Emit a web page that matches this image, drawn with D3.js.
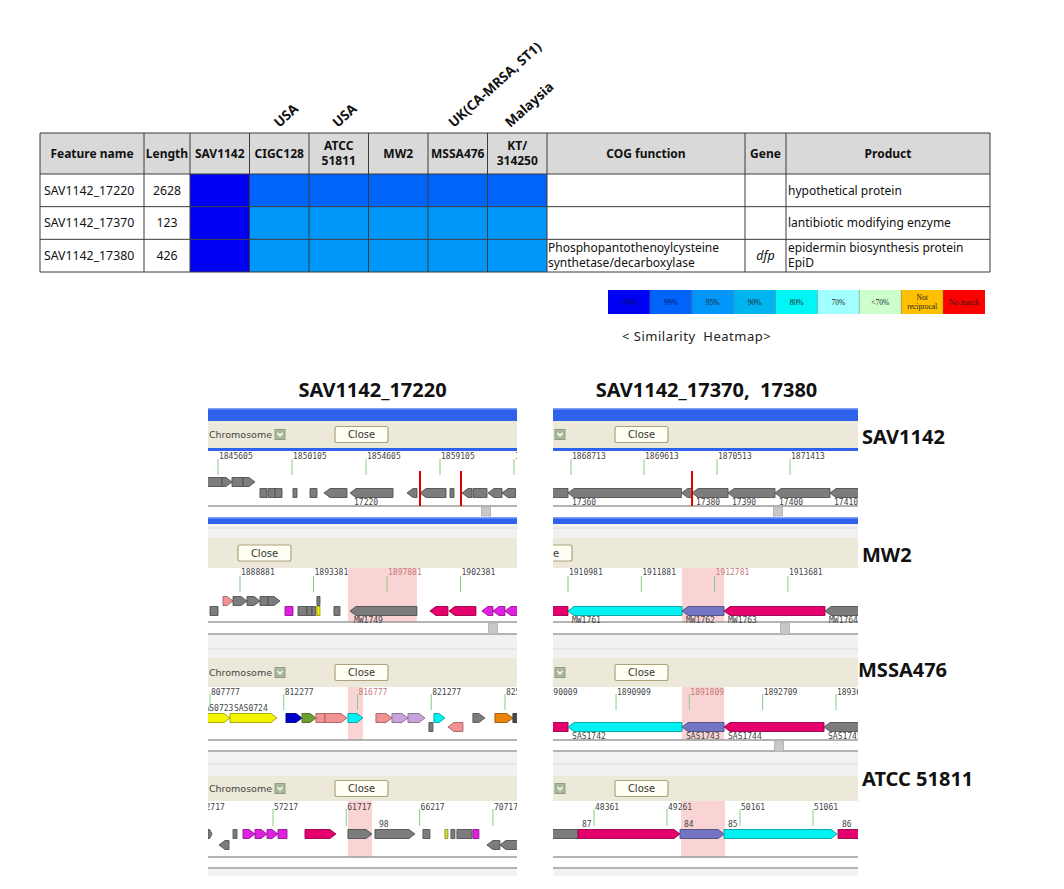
<!DOCTYPE html>
<html><head><meta charset="utf-8">
<script src="https://cdn.jsdelivr.net/npm/d3@7"></script>
<style>body{margin:0;background:#fff;} svg{display:block;} text{white-space:pre;}</style>
</head><body><svg id="c" width="1064" height="889"></svg>
<script>
// ================= DATA =================
const strains = ["SAV1142", "CIGC128", "ATCC\n51811", "MW2", "MSSA476", "KT/\n314250"];
const strainOrigins = ["", "USA", "USA", "", "UK(CA-MRSA, ST1)", "Malaysia"];
const features = ["SAV1142_17220", "SAV1142_17370", "SAV1142_17380"];
const lengths = [2628, 123, 426];
const similarity = [
  [100, 99, 99, 99, 99, 99],
  [100, 95, 95, 95, 95, 95],
  [100, 95, 95, 95, 95, 95]
];
const cogFunction = ["", "", "Phosphopantothenoylcysteine\nsynthetase/decarboxylase"];
const geneSymbols = ["", "", "dfp"];
const products = ["hypothetical protein", "lantibiotic modifying enzyme", "epidermin biosynthesis protein\nEpiD"];
const legendLevels = [100, 99, 95, 90, 80, 70, "<70", "nr", "nm"];
const legendLabels = ["100%", "99%", "95%", "90%", "80%", "70%", "<70%", "Not\nreciprocal", "No match"];
const legendColors = ["#0000F2", "#0064FA", "#0096FA", "#00B4F0", "#00F5F5", "#A0FFFF", "#CCFFCC", "#FFC000", "#FF0000"];

const panelTitles = ["SAV1142_17220", "SAV1142_17370,  17380"];
const genomeNames = ["SAV1142", "MW2", "MSSA476", "ATCC 51811"];

// visible genome window of each browser view [left column, right column] per genome
const viewLeft = [[1844997, 1863787], [1886922, 1905839], [807655, 826510], [53227, 72196]];
const viewRight = [[1868491, 1872251], [1910797, 1914542], [1890135, 1893880], [47855, 51616]];
const ticksLeft = [
  [1845605, 1850105, 1854605, 1859105, 1863605],
  [1888881, 1893381, 1897881, 1902381],
  [807777, 812277, 816777, 821277, 825777],
  [52717, 57217, 61717, 66217, 70717]
];
const ticksRight = [
  [1868713, 1869613, 1870513, 1871413],
  [1910981, 1911881, 1912781, 1913681],
  [1890009, 1890909, 1891809, 1892709, 1893609],
  [48361, 49261, 50161, 51061]
];
const highlightLeft = [null, [1895491, 1899713], [816195, 817110], [61819, 63292]];
const highlightRight = [null, [1912381, 1912897], [1891719, 1892235], [49434, 49976]];
const markersLeft = [[1857889, 1860382], [], [], []];
const markersRight = [[1870205], [], [], []];

// genes: [start, end, strand (1 fwd, -1 rev, 0 box), lane (0 upper, 1 lower), colour, label]
const genesLeft = [
  [
    [1844700, 1845848, 0, 0, "gray"], [1845848, 1846456, 1, 0, "gray"], [1846456, 1847125, 0, 0, "gray"],
    [1847125, 1847855, 1, 0, "gray"],
    [1848159, 1848585, 0, 1, "gray"], [1848646, 1849071, 0, 1, "gray"], [1849071, 1849497, 0, 1, "gray"],
    [1850166, 1850409, 0, 1, "gray"], [1851200, 1851625, 0, 1, "gray"], [1852051, 1853449, -1, 1, "gray"],
    [1853632, 1856247, -1, 1, "gray", "17220"], [1857098, 1857706, -1, 1, "gray"],
    [1857889, 1859470, -1, 1, "gray"], [1859713, 1859956, 0, 1, "gray"], [1860443, 1861051, -1, 1, "gray"],
    [1861112, 1861963, 0, 1, "gray"], [1862024, 1862875, -1, 1, "gray"], [1862875, 1863700, -1, 1, "gray"]
  ],
  [
    [1887841, 1888453, 1, 0, "salmon"], [1888453, 1889309, 1, 0, "gray"], [1889309, 1890105, 1, 0, "gray"],
    [1890105, 1890595, 0, 0, "gray"], [1890595, 1891329, 1, 0, "gray"], [1893593, 1893777, 0, 0, "gray"],
    [1887045, 1887535, 0, 1, "gray"], [1891635, 1892125, 0, 1, "magenta"], [1892431, 1892981, 0, 1, "gray"],
    [1892981, 1893287, 0, 1, "gray"], [1893287, 1893532, 0, 1, "gray"], [1893593, 1893777, 0, 1, "yellow"],
    [1894634, 1895001, 0, 1, "gray"], [1895613, 1899713, -1, 1, "gray", "MW1749"],
    [1900509, 1901611, -1, 1, "crimson"], [1901672, 1903325, -1, 1, "crimson"],
    [1903691, 1904365, -1, 1, "magenta"], [1904365, 1905099, -1, 1, "magenta"], [1905099, 1905900, -1, 1, "magenta"]
  ],
  [
    [806900, 808997, 1, 0, "yellow", "SAS0723"], [808997, 811864, 1, 0, "yellow", "SAS0724"],
    [812413, 813389, 1, 0, "blue"], [813389, 814243, 1, 0, "green"], [814243, 814792, 0, 0, "salmon"],
    [814792, 816134, 1, 0, "salmon"], [816195, 817110, 1, 0, "cyan"], [817903, 818879, 1, 0, "salmon"],
    [818879, 819855, 1, 0, "lilac"], [819855, 820892, 1, 0, "lilac"], [821441, 822112, 1, 0, "cyan"],
    [823820, 824552, 1, 0, "gray"], [825162, 826260, 1, 0, "orange"], [826260, 826600, 0, 0, "dark"],
    [821136, 821380, 0, 1, "gray"], [822295, 823210, -1, 1, "salmon"]
  ],
  [
    [53229, 53474, 1, 0, "gray"], [54763, 55008, 0, 0, "gray"], [55376, 56112, 1, 0, "magenta"],
    [56112, 56849, 1, 0, "magenta"], [56849, 57524, 1, 0, "magenta"], [57524, 58076, 0, 0, "magenta"],
    [59181, 61083, 1, 0, "crimson"], [61819, 63292, 1, 0, "gray"], [63476, 65930, 1, 0, "gray", "98"],
    [66421, 66850, 0, 0, "gray"], [67771, 67955, 0, 0, "yellowgreen"], [68139, 68384, 0, 0, "gray"],
    [68507, 69428, 0, 0, "gray"], [69489, 69857, 0, 0, "magenta"],
    [53903, 54517, -1, 1, "gray"], [70348, 71146, -1, 1, "gray"], [71146, 72300, -1, 1, "gray"]
  ]
];
const genesRight = [
  [
    [1868300, 1868676, 0, 1, "gray"], [1868676, 1870075, -1, 1, "gray", "17360"],
    [1870075, 1870205, -1, 1, "gray"], [1870205, 1870649, -1, 1, "gray", "17380"],
    [1870649, 1871228, -1, 1, "gray", "17390"], [1871228, 1871906, -1, 1, "gray", "17400"],
    [1871906, 1872400, -1, 1, "gray", "17410"]
  ],
  [
    [1910600, 1910981, 0, 1, "crimson"], [1910981, 1912381, -1, 1, "cyan", "MW1761"],
    [1912381, 1912897, -1, 1, "purple", "MW1762"], [1912897, 1914137, -1, 1, "crimson", "MW1763"],
    [1914137, 1914700, -1, 1, "gray", "MW1764"]
  ],
  [
    [1889900, 1890320, 0, 1, "crimson"], [1890320, 1891719, -1, 1, "cyan", "SAS1742"],
    [1891719, 1892235, -1, 1, "purple", "SAS1743"], [1892235, 1893463, -1, 1, "crimson", "SAS1744"],
    [1893463, 1894050, -1, 1, "gray", "SAS1745"]
  ],
  [
    [47600, 48164, 0, 0, "gray"], [48164, 49421, 1, 0, "crimson", "87"],
    [49421, 49964, 1, 0, "purple", "84"], [49964, 51357, 1, 0, "cyan", "85"],
    [51370, 51800, 1, 0, "crimson", "86"]
  ]
];

// ================= DRAWING =================
const svg = d3.select("#c");
const FONT = "'Noto Sans', 'Open Sans', sans-serif";
const MONO = "'DejaVu Sans Mono', monospace";
const defs = svg.append("defs");

// ---------- table ----------
const T = {x0: 40, x1: 990, yHead: 133, yBody: 174, yEnd: 272};
const xStrain = d3.scaleBand().domain(strains).range([190, 547]);
const yRow = d3.scaleBand().domain(features).range([T.yBody, T.yEnd]);
const levelColor = d3.scaleOrdinal().domain(legendLevels).range(legendColors);
const cols = [
  {name: "Feature name", x0: 40, x1: 144},
  {name: "Length", x0: 144, x1: 190},
  ...strains.map(s => ({name: s, x0: xStrain(s), x1: xStrain(s) + xStrain.bandwidth()})),
  {name: "COG function", x0: 547, x1: 745},
  {name: "Gene", x0: 745, x1: 786},
  {name: "Product", x0: 786, x1: 990}
];
const tbl = svg.append("g");
tbl.append("rect").attr("x", T.x0).attr("y", T.yHead).attr("width", T.x1 - T.x0).attr("height", T.yBody - T.yHead)
  .attr("fill", "#D9D9D9");
features.forEach((f, i) => {
  strains.forEach((s, j) => {
    tbl.append("rect").attr("x", xStrain(s)).attr("y", yRow(f)).attr("width", xStrain.bandwidth())
      .attr("height", yRow.bandwidth()).attr("fill", levelColor(similarity[i][j]));
  });
});
function multiText(g, txt, x, yc, opts) {
  const lines = txt.split("\n");
  const lh = opts.lh || 15;
  const t = g.append("text").attr("x", x).attr("font-family", FONT).attr("font-size", opts.size || 12)
    .attr("font-weight", opts.weight || "normal").attr("text-anchor", opts.anchor || "start")
    .attr("font-style", opts.style || "normal").attr("fill", opts.fill || "#111");
  lines.forEach((l, k) => {
    t.append("tspan").attr("x", x).attr("y", yc + (k - (lines.length - 1) / 2) * lh).attr("dy", "0.35em").text(l);
  });
  return t;
}
cols.forEach(c => multiText(tbl, c.name, (c.x0 + c.x1) / 2, (T.yHead + T.yBody) / 2, {weight: "bold", anchor: "middle", size: 12, lh: 15}));
features.forEach((f, i) => {
  const yc = yRow(f) + yRow.bandwidth() / 2;
  multiText(tbl, f, cols[0].x0 + 4, yc, {size: 12.3});
  multiText(tbl, String(lengths[i]), (cols[1].x0 + cols[1].x1) / 2, yc, {size: 12.3, anchor: "middle"});
  multiText(tbl, cogFunction[i], cols[8].x0 + 1, yc, {size: 12, lh: 15});
  multiText(tbl, geneSymbols[i], (cols[9].x0 + cols[9].x1) / 2, yc, {size: 12.5, anchor: "middle", style: "italic"});
  multiText(tbl, products[i], cols[10].x0 + 2, yc, {size: 12, lh: 15});
});
const gridC = "#3a3a3a";
[T.yHead, T.yBody, ...features.map(f => yRow(f) + yRow.bandwidth())].forEach(y =>
  tbl.append("line").attr("x1", T.x0).attr("x2", T.x1).attr("y1", y).attr("y2", y).attr("stroke", gridC).attr("stroke-width", 1));
[T.x0, ...cols.map(c => c.x1)].forEach(x =>
  tbl.append("line").attr("x1", x).attr("x2", x).attr("y1", T.yHead).attr("y2", T.yEnd).attr("stroke", gridC).attr("stroke-width", 1));
// rotated origin labels
const originDx = [0, 0, -1, 0, -4, -7];
strains.forEach((s, j) => {
  if (!strainOrigins[j]) return;
  const x = xStrain(s) + xStrain.bandwidth() / 2 + originDx[j], y = 128;
  svg.append("text").attr("transform", `translate(${x},${y}) rotate(-42)`).attr("font-family", FONT)
    .attr("font-size", 13.5).attr("font-weight", "bold").attr("fill", "#111").text(strainOrigins[j]);
});

// ---------- legend ----------
const xLeg = d3.scaleBand().domain(legendLabels).range([608, 985]);
const leg = svg.append("g");
legendLabels.forEach((l, k) => {
  leg.append("rect").attr("x", xLeg(l)).attr("y", 290).attr("width", xLeg.bandwidth()).attr("height", 24)
    .attr("fill", legendColors[k]);
  const lines = l.split("\n");
  const t = leg.append("text").attr("font-family", "'Liberation Serif', serif").attr("font-size", 7.5)
    .attr("text-anchor", "middle").attr("fill", k < 2 ? "#001060" : "#222");
  lines.forEach((ln, q) => t.append("tspan").attr("x", xLeg(l) + xLeg.bandwidth() / 2)
    .attr("y", 302 + (q - (lines.length - 1) / 2) * 9).attr("dy", "0.35em").text(ln));
});
legendLabels.slice(1).forEach(l => leg.append("line").attr("x1", xLeg(l)).attr("x2", xLeg(l)).attr("y1", 290).attr("y2", 314)
  .attr("stroke", "#335").attr("stroke-opacity", 0.35));
svg.append("text").attr("x", 622).attr("y", 341).attr("font-family", FONT).attr("font-size", 13)
  .attr("letter-spacing", 0.5).attr("fill", "#222").text("< Similarity  Heatmap>");

// ---------- genome browser panels ----------
const panelX = [[208, 517], [553, 858]];
const titleDx = [10, 1];
panelTitles.forEach((t, c) => {
  svg.append("text").attr("x", (panelX[c][0] + panelX[c][1]) / 2 + titleDx[c]).attr("y", 397)
    .attr("text-anchor", "middle").attr("font-family", FONT).attr("font-size", 20).attr("font-weight", "bold")
    .attr("fill", "#111").text(t);
});
const genomeLabelX = [862, 862, 858, 862];
const genomeLabelY = [437, 555, 670, 779];
genomeNames.forEach((g, r) => {
  svg.append("text").attr("x", genomeLabelX[r]).attr("y", genomeLabelY[r]).attr("dy", "0.35em")
    .attr("font-family", FONT).attr("font-size", 20).attr("font-weight", "bold").attr("fill", "#111").text(g);
});

const rowLayout = [
  {y0: 406, y1: 517, topBlue: [408, 421], strip: null, tb: [421, 448], blueUnder: true, tickLabel: 459, tick: [459, 475], lanes: [482, 493], base: 506, second: null, thumbY: [506, 516]},
  {y0: 517, y1: 645, topBlue: [517, 524], strip: [524, 538], tb: [538, 568], blueUnder: false, tickLabel: 575, tick: [576, 592], lanes: [601, 611], base: 622, second: 634, thumbY: [622, 634]},
  {y0: 645, y1: 760, topBlue: null, strip: [645, 658], tb: [658, 687], blueUnder: false, tickLabel: 695, tick: [694, 710], lanes: [718, 727], base: 740, second: 751, thumbY: [740, 751]},
  {y0: 760, y1: 876, topBlue: null, strip: [760, 776], tb: [776, 801], blueUnder: false, tickLabel: 810, tick: [809, 826], lanes: [834, 845], base: 857, second: 868, thumbY: null}
];
const closeX = [[335, 615], [238, 519], [335, 615], [335, 615]];
const thumbX = [[486, 778], [493, 785], [null, 779], [null, null]];
const labelAbove = [[false, false], [false, false], [true, false], [true, true]];
const geneFill = {
  gray: "#7C7C7C", crimson: "#E6006E", cyan: "#00F2F2", purple: "#7474C4", magenta: "#E020E0",
  salmon: "#F29292", yellow: "#F4F400", blue: "#0000C8", green: "#6EA030", lilac: "#C8A2DC",
  orange: "#E8860C", yellowgreen: "#D4E040", dark: "#4A4A4A"
};
function genePath(x0, x1, yc, h, strand) {
  const w = x1 - x0, head = Math.min(6, w * 0.6), t = yc - h / 2, b = yc + h / 2;
  if (strand > 0) return `M${x0},${t}L${x1 - head},${t}L${x1},${yc}L${x1 - head},${b}L${x0},${b}Z`;
  if (strand < 0) return `M${x1},${t}L${x0 + head},${t}L${x0},${yc}L${x0 + head},${b}L${x1},${b}Z`;
  return `M${x0},${t}L${x1},${t}L${x1},${b}L${x0},${b}Z`;
}

const views = [viewLeft, viewRight], ticksAll = [ticksLeft, ticksRight], hls = [highlightLeft, highlightRight],
  mks = [markersLeft, markersRight], genesAll = [genesLeft, genesRight];

rowLayout.forEach((L, r) => {
  [0, 1].forEach(c => {
    const [px0, px1] = panelX[c];
    const id = `clip${r}${c}`;
    defs.append("clipPath").attr("id", id).append("rect").attr("x", px0).attr("y", L.y0).attr("width", px1 - px0).attr("height", L.y1 - L.y0);
    const g = svg.append("g").attr("clip-path", `url(#${id})`);
    const x = d3.scaleLinear().domain(views[c][r]).range([px0, px1]);
    const W = px1 - px0;
    if (L.topBlue) {
      g.append("rect").attr("x", px0).attr("y", L.topBlue[0]).attr("width", W).attr("height", L.topBlue[1] - L.topBlue[0]).attr("fill", "#2F62EC");
      g.append("rect").attr("x", px0).attr("y", L.topBlue[0]).attr("width", W).attr("height", 1.5).attr("fill", "#7FA0F4");
    }
    if (L.strip) {
      g.append("rect").attr("x", px0).attr("y", L.strip[0]).attr("width", W).attr("height", L.strip[1] - L.strip[0]).attr("fill", "#F1F1EF");
      g.append("line").attr("x1", px0).attr("x2", px1).attr("y1", L.strip[0] + 4).attr("y2", L.strip[0] + 4).attr("stroke", "#DCDCDC");
    }
    g.append("rect").attr("x", px0).attr("y", L.tb[0]).attr("width", W).attr("height", L.tb[1] - L.tb[0]).attr("fill", "#ECE9DA");
    if (L.blueUnder) g.append("rect").attr("x", px0).attr("y", L.tb[1]).attr("width", W).attr("height", 3).attr("fill", "#2F62EC");
    const tbc = (L.tb[0] + L.tb[1]) / 2, cx = closeX[r][c];
    const ix = cx - 60;
    g.append("rect").attr("x", ix).attr("y", tbc - 5).attr("width", 10).attr("height", 10).attr("fill", "#A9B998").attr("stroke", "#8E9E80");
    g.append("path").attr("d", `M${ix + 2.5},${tbc - 1.5}L${ix + 5},${tbc + 1.5}L${ix + 7.5},${tbc - 1.5}`).attr("fill", "none").attr("stroke", "#fff").attr("stroke-width", 1.4);
    g.append("text").attr("x", ix - 3).attr("y", tbc).attr("dy", "0.35em").attr("text-anchor", "end")
      .attr("font-family", "'DejaVu Sans', sans-serif").attr("font-size", 9.5).attr("fill", "#444").text("a Chromosome");
    g.append("rect").attr("x", cx).attr("y", tbc - 8).attr("width", 53).attr("height", 16).attr("rx", 2)
      .attr("fill", "#FFFFF3").attr("stroke", "#ADA37A").attr("stroke-width", 1.2);
    g.append("text").attr("x", cx + 26.5).attr("y", tbc).attr("dy", "0.35em").attr("text-anchor", "middle")
      .attr("font-family", "'DejaVu Sans', sans-serif").attr("font-size", 10).attr("fill", "#333").text("Close");
    const hl = hls[c][r];
    if (hl) g.append("rect").attr("x", x(hl[0])).attr("y", L.tb[1]).attr("width", x(hl[1]) - x(hl[0]))
      .attr("height", L.base - L.tb[1]).attr("fill", "#FAD4D4");
    ticksAll[c][r].forEach(tv => {
      const tx = x(tv);
      const inHl = hl && tx >= x(hl[0]) - 1 && tx <= x(hl[1]);
      g.append("line").attr("x1", tx).attr("x2", tx).attr("y1", L.tick[0]).attr("y2", L.tick[1]).attr("stroke", "#88CC88").attr("stroke-width", 1);
      g.append("text").attr("x", tx + 1).attr("y", L.tickLabel).attr("font-family", MONO).attr("font-size", 8)
        .attr("fill", inHl ? "#C47C7C" : "#444").text(tv);
    });
    g.append("line").attr("x1", px0).attr("x2", px1).attr("y1", L.base).attr("y2", L.base).attr("stroke", "#9A9A9A").attr("stroke-width", 1.3);
    if (L.second) {
      g.append("line").attr("x1", px0).attr("x2", px1).attr("y1", L.second).attr("y2", L.second).attr("stroke", "#9A9A9A").attr("stroke-width", 1.3);
      g.append("rect").attr("x", px0).attr("y", L.second + 1).attr("width", W).attr("height", L.y1 - L.second - 1).attr("fill", "#F2F2F2");
    }
    if (thumbX[r][c] && L.thumbY) g.append("rect").attr("x", thumbX[r][c] - 4.5).attr("y", L.thumbY[0] + 1).attr("width", 9)
      .attr("height", L.thumbY[1] - L.thumbY[0] - 1).attr("fill", "#C8C8C8").attr("stroke", "#B8B8B8");
    genesAll[c][r].forEach(gd => {
      const [s, e, strand, lane, col, lab] = gd;
      const yc = L.lanes[lane];
      const fill = geneFill[col];
      g.append("path").attr("d", genePath(x(s), x(e), yc, 9, strand)).attr("fill", fill)
        .attr("stroke", d3.color(fill).darker(1.2)).attr("stroke-width", 0.9);
      if (lab) {
        const above = labelAbove[r][c];
        g.append("text").attr("x", x(s) + 4).attr("y", above ? yc - 7 : yc + 12).attr("font-family", MONO)
          .attr("font-size", 8).attr("fill", "#444").text(lab);
      }
    });
    mks[c][r].forEach(m => {
      g.append("line").attr("x1", x(m)).attr("x2", x(m)).attr("y1", L.tick[0] + 12).attr("y2", L.base)
        .attr("stroke", "#E00000").attr("stroke-width", 2);
    });
  });
});
</script></body></html>
